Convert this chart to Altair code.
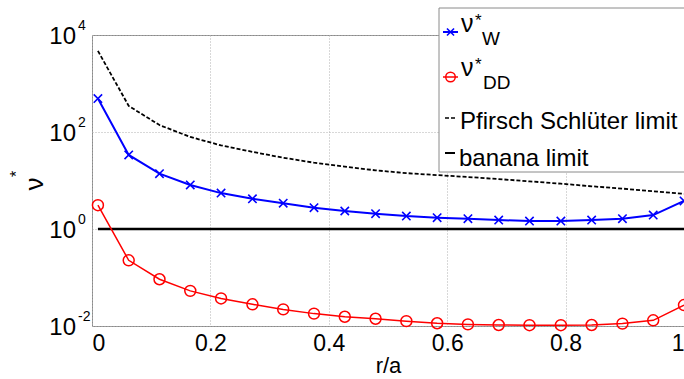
import altair as alt
import pandas as pd

# ---- data ----
r = [0.01, 0.062, 0.114, 0.166, 0.218, 0.271, 0.323, 0.375, 0.427, 0.479,
     0.531, 0.583, 0.635, 0.687, 0.739, 0.792, 0.844, 0.896, 0.948, 1.0]
nu_w = [490, 33.6, 13.8, 8.1, 5.5, 4.2, 3.4, 2.75, 2.35, 2.07,
        1.85, 1.71, 1.63, 1.53, 1.46, 1.46, 1.53, 1.63, 1.94, 3.8]
nu_dd = [3.1, 0.226, 0.092, 0.053, 0.037, 0.028, 0.022, 0.018, 0.0155, 0.0141,
         0.0126, 0.0114, 0.0108, 0.0105, 0.0104, 0.0104, 0.0105, 0.0112, 0.0131, 0.027]
ps_limit = [4700, 345, 139, 79, 53, 39, 29.5, 23.3, 19.3, 16.2,
            14.2, 12.9, 11.8, 10.7, 9.6, 8.6, 7.6, 6.8, 6.0, 5.3]
banana_limit = [1.0] * 20

x_ticks = [0, 0.2, 0.4, 0.6, 0.8, 1]
y_ticks = [0.01, 1, 100, 10000]
y_exponents = ["-2", "0", "2", "4"]

legend_names = ["Pfirsch Schlüter limit", "banana limit"]

df = pd.DataFrame({"r": r, "nu_w": nu_w, "nu_dd": nu_dd,
                   "ps": ps_limit, "banana": banana_limit})
ticks_df = pd.DataFrame({"y": y_ticks, "exp": y_exponents})

FONT = "Liberation Sans"
BLUE = "#0000ff"
RED = "#ff0000"

yscale = alt.Scale(type="log", domain=[0.01, 10000], nice=False)
xenc = alt.X("r:Q", scale=alt.Scale(domain=[0, 1], nice=False),
             axis=alt.Axis(values=x_ticks, format="~g", grid=True, gridDash=[1, 2],
                           gridColor="#b0b0b0", ticks=False, tickSize=0, domain=False,
                           labelFontSize=23, labelColor="black", labelPadding=6,
                           labelFont=FONT, title="r/a", titleFont=FONT,
                           titleFontSize=22, titleFontWeight="normal",
                           titleColor="black", titlePadding=0))
yaxis = alt.Axis(values=y_ticks, labels=False, ticks=False, tickSize=0, domain=False,
                 grid=True, gridDash=[1, 2], gridColor="#b0b0b0", title=None)

base = alt.Chart(df)

banana = base.mark_line(color="black", strokeWidth=2.5).encode(
    x=xenc, y=alt.Y("banana:Q", scale=yscale, axis=yaxis))
ps = base.mark_line(color="black", strokeWidth=1.8, strokeDash=[4, 2]).encode(
    x=xenc, y=alt.Y("ps:Q", scale=yscale))
w_line = base.mark_line(color=BLUE, strokeWidth=2).encode(
    x=xenc, y=alt.Y("nu_w:Q", scale=yscale))
XPATH = "M-1,-1L1,1M-1,1L1,-1"
w_pts = base.mark_point(shape=XPATH, filled=False, color=BLUE, size=70,
                        strokeWidth=1.6, opacity=1).encode(
    x=xenc, y=alt.Y("nu_w:Q", scale=yscale))
dd_line = base.mark_line(color=RED, strokeWidth=1.5).encode(
    x=xenc, y=alt.Y("nu_dd:Q", scale=yscale))
dd_pts = base.mark_point(shape="circle", filled=False, color=RED, size=120,
                         strokeWidth=1.5, opacity=1).encode(
    x=xenc, y=alt.Y("nu_dd:Q", scale=yscale))

# y tick labels 10^n
tk = alt.Chart(ticks_df)
tick10 = tk.mark_text(align="right", baseline="middle", fontSize=24, font=FONT,
                      color="black", dy=2).encode(
    x=alt.value(-16), y=alt.Y("y:Q", scale=yscale), text=alt.value("10"))
tickexp = tk.mark_text(align="left", baseline="middle", fontSize=14, font=FONT,
                       color="black", dy=-9).encode(
    x=alt.value(-14), y=alt.Y("y:Q", scale=yscale), text="exp:N")

one = alt.Data(values=[{}])


def txt(s, x, y, size, **kw):
    return alt.Chart(one).mark_text(text=s, fontSize=size, font=FONT, color="black",
                                    **kw).encode(x=alt.value(x), y=alt.value(y))


def rule(x1, x2, y, color, width, dash=None):
    kw = dict(color=color, strokeWidth=width)
    if dash:
        kw["strokeDash"] = dash
    return alt.Chart(one).mark_rule(**kw).encode(
        x=alt.value(x1), x2=alt.value(x2), y=alt.value(y))


# y axis title
ytitle1 = txt("ν", -57, 149, 26, angle=270, align="center", baseline="middle")
ytitle2 = txt("*", -75, 139, 16, angle=270, align="center", baseline="middle")

# legend
box = alt.Chart(one).mark_rect(fill="white", stroke="#8a8a8a", strokeWidth=1).encode(
    x=alt.value(347), x2=alt.value(640), y=alt.value(-27), y2=alt.value(137))
leg = [
    box,
    rule(351, 366, -3, BLUE, 2),
    alt.Chart(one).mark_point(shape=XPATH, filled=False, color=BLUE, size=50,
                              strokeWidth=1.6, opacity=1).encode(
        x=alt.value(358.5), y=alt.value(-3)),
    txt("ν", 369, -3, 25, align="left", baseline="alphabetic"),
    txt("*", 383, -9, 17, align="left", baseline="alphabetic"),
    txt("W", 390, 10, 19, align="left", baseline="alphabetic"),
    rule(351, 366, 42, RED, 1.5),
    alt.Chart(one).mark_point(shape="circle", filled=False, color=RED, size=90,
                              strokeWidth=1.5, opacity=1).encode(
        x=alt.value(358.5), y=alt.value(42)),
    txt("ν", 369, 41, 25, align="left", baseline="alphabetic"),
    txt("*", 383, 35, 17, align="left", baseline="alphabetic"),
    txt("DD", 391, 54, 19, align="left", baseline="alphabetic"),
    rule(353, 363, 83, "black", 1.5, [4, 2]),
    txt(legend_names[0], 368, 94, 24, align="left", baseline="alphabetic"),
    rule(353, 363, 118, "black", 2),
    txt(legend_names[1], 367, 131, 24, align="left", baseline="alphabetic"),
]

chart = alt.layer(banana, ps, w_line, w_pts, dd_line, dd_pts, tick10, tickexp,
                  ytitle1, ytitle2, *leg).properties(
    width=592, height=291,
    padding={"left": 92, "top": 35, "right": 0, "bottom": 53},
    autosize=alt.AutoSizeParams(type="none"),
    background="white",
).configure_view(stroke="#8a8a8a", strokeWidth=1)

chart.save("out.html", embed_options={"renderer": "svg", "actions": False})
